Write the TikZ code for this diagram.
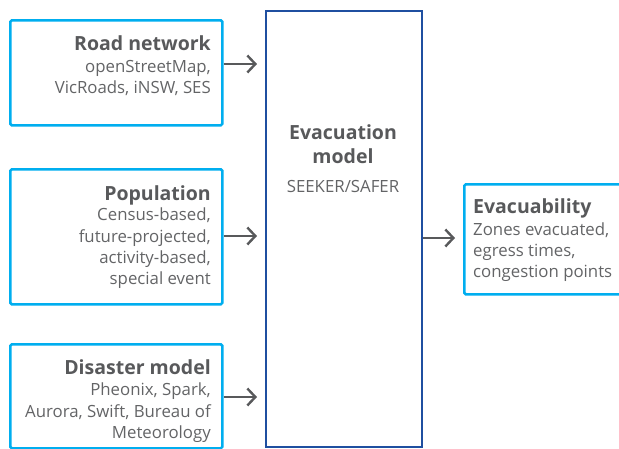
\documentclass[tikz,border=0pt]{standalone}
\usepackage{fontspec}
\setmainfont{Open Sans}
\usetikzlibrary{arrows.meta,calc}
\definecolor{lblue}{HTML}{00AEEF}
\definecolor{dblue}{HTML}{1F4FA0}
\definecolor{tgray}{HTML}{58595B}
\definecolor{bgray}{HTML}{636466}
\begin{document}
\begin{tikzpicture}[x=1pt,y=-1pt,
  inbox/.style={draw=lblue,line width=2.6pt,rounded corners=1.5pt,inner sep=0pt,anchor=north west},
  bigbox/.style={draw=dblue,line width=2pt,inner sep=0pt,anchor=north west},
  ttl/.style={font=\fontsize{19.5}{22}\selectfont\bfseries,text=tgray,inner sep=0pt},
  body/.style={font=\fontsize{16.8}{20}\selectfont,text=bgray,inner sep=0pt},
  R/.style={anchor=base east},
  L/.style={anchor=base west},
  arr/.style={draw=tgray,line width=2.4pt,-{Straight Barb[length=8pt,width=17pt,line width=2.4pt]}}]
\useasboundingbox (0,0) rectangle (619,448);
% boxes
\node[inbox,minimum width=212pt,minimum height=105pt] (road) at (9,19) {};
\node[inbox,minimum width=212pt,minimum height=135pt] (pop) at (9,168) {};
\node[inbox,minimum width=212pt,minimum height=104pt] (dis) at (9,343) {};
\node[bigbox,minimum width=156pt,minimum height=436pt] (evac) at (265,10) {};
\node[inbox,minimum width=160pt,minimum height=110pt] (out) at (463,183) {};
% texts
\node[ttl,R] (t1) at (211,50) {Road network};
\node[body,R] (b1a) at (211,72) {openStreetMap,};
\node[body,R] (b1b) at (211,93) {VicRoads, iNSW, SES};
\node[ttl,R] (t2) at (211,200) {Population};
\node[body,R] (b2a) at (211,220) {Census-based,};
\node[body,R] (b2b) at (211,242) {future-projected,};
\node[body,R] (b2c) at (211,263) {activity-based,};
\node[body,R] (b2d) at (211,284) {special event};
\node[ttl,R] (t3) at (211,374) {Disaster model};
\node[body,R] (b3a) at (211,395) {Pheonix, Spark,};
\node[body,R] (b3b) at (211,417) {Aurora, Swift, Bureau of};
\node[body,R] (b3c) at (211,438) {Meteorology};
\node[ttl,anchor=base] (t4a) at (343,139) {Evacuation};
\node[ttl,anchor=base] (t4b) at (343,163) {model};
\node[body,anchor=base] (b4) at (343,192) {SEEKER/SAFER};
\node[ttl,L] (t5) at (473,213) {Evacuability};
\node[body,L] (b5a) at (473,235) {Zones evacuated,};
\node[body,L] (b5b) at (473,256) {egress times,};
\node[body,L] (b5c) at (473,277) {congestion points};
% arrows
\coordinate (e1) at ($(evac.west |- 0,64)+(-8,0)$);
\coordinate (e2) at ($(evac.west |- 0,236)+(-8,0)$);
\coordinate (e3) at ($(evac.west |- 0,397)+(-8,0)$);
\coordinate (e4) at ($(out.west |- 0,238)+(-8,0)$);
\draw[arr] (road.east |- 0,64) -- (e1);
\draw[arr] (pop.east |- 0,236) -- (e2);
\draw[arr] (dis.east |- 0,397) -- (e3);
\draw[arr] (evac.east |- 0,238) -- (e4);
\end{tikzpicture}
\end{document}
